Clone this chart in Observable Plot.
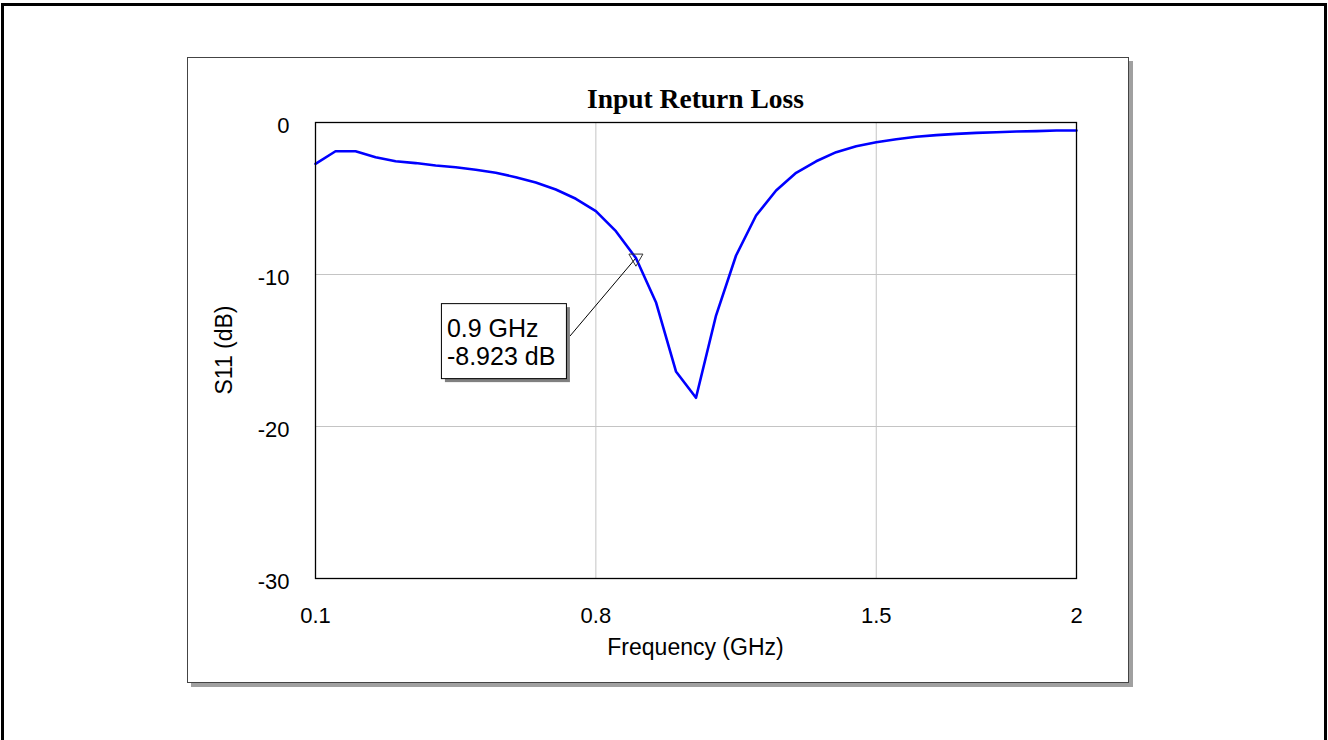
<!DOCTYPE html>
<html>
<head>
<meta charset="utf-8">
<script src="https://cdn.jsdelivr.net/npm/d3@7"></script>
<script src="https://cdn.jsdelivr.net/npm/@observablehq/plot@0.6"></script>
<style>
  html, body { margin: 0; padding: 0; background: #fff; }
  #chart svg { display: block; }
</style>
</head>
<body>
<div id="chart"></div>
<script>
// Frequency sweep (GHz)
const freq = [0.1, 0.15, 0.2, 0.25, 0.3, 0.35, 0.4, 0.45, 0.5, 0.55,
              0.6, 0.65, 0.7, 0.75, 0.8, 0.85, 0.9, 0.95, 1.0, 1.05,
              1.1, 1.15, 1.2, 1.25, 1.3, 1.35, 1.4, 1.45, 1.5, 1.55,
              1.6, 1.65, 1.7, 1.75, 1.8, 1.85, 1.9, 1.95, 2.0];
// S11 (dB)
const s11 = [-2.72, -1.89, -1.89, -2.28, -2.55, -2.67, -2.83, -2.94, -3.11, -3.31,
             -3.60, -3.95, -4.41, -5.02, -5.83, -7.15, -8.92, -11.82, -16.38, -18.11,
             -12.70, -8.75, -6.12, -4.47, -3.31, -2.55, -1.95, -1.56, -1.30, -1.10,
             -0.94, -0.83, -0.75, -0.68, -0.64, -0.59, -0.57, -0.53, -0.53];

const xTicks = [0.1, 0.8, 1.5, 2];
const yTicks = [0, -10, -20, -30];
const xGrid = [0.8, 1.5];
const yGrid = [-10, -20];

const markerFreq = 0.9;
const markerDb = -8.923;
const markerLines = ["0.9 GHz", "-8.923 dB"];

const titleText = "Input Return Loss";
const xLabel = "Frequency (GHz)";
const yLabel = "S11 (dB)";

const data = freq.map((f, i) => ({f, db: s11[i]}));

const plot = Plot.plot({
  width: 1328,
  height: 740,
  marginLeft: 315,
  marginRight: 252,
  marginTop: 122,
  marginBottom: 162,
  style: {fontFamily: "'Liberation Sans', Arial, sans-serif", fontSize: "22px", color: "#000", background: "white"},
  x: {domain: [0.1, 2]},
  y: {domain: [-30, 0]},
  marks: [
    Plot.gridX(xGrid, {stroke: "#c4c4c4", strokeOpacity: 1, strokeWidth: 1}),
    Plot.gridY(yGrid, {stroke: "#c4c4c4", strokeOpacity: 1, strokeWidth: 1}),
    Plot.axisX(xTicks, {tickSize: 0, tickPadding: 29, fontSize: 22, label: null, tickFormat: d => String(d)}),
    Plot.axisY(yTicks, {tickSize: 0, tickPadding: 26, fontSize: 22, label: null, dy: 3, tickFormat: d => String(d)}),
    Plot.line(data, {x: "f", y: "db", stroke: "#0000ff", strokeWidth: 2.6}),
    Plot.frame({stroke: "#000", strokeWidth: 1.3}),
    Plot.dot([{f: markerFreq, db: markerDb}], {x: "f", y: "db", symbol: "triangle", rotate: 180, r: 5.2, stroke: "#333", fill: "none", strokeWidth: 1})
  ]
});

document.getElementById("chart").appendChild(plot);

const svg = d3.select(plot);
const xs = plot.scale("x");
const ys = plot.scale("y");

// Decorations behind the plot
const bg = svg.insert("g", ":first-child");
// outer frame
bg.append("rect").attr("x", 2.5).attr("y", 4.5).attr("width", 1323).attr("height", 745)
  .attr("fill", "white").attr("stroke", "#000").attr("stroke-width", 3);
// panel shadow
bg.append("rect").attr("x", 191).attr("y", 61).attr("width", 942).attr("height", 626)
  .attr("fill", "#a0a0a0");
// panel
bg.append("rect").attr("x", 187.5).attr("y", 57.5).attr("width", 941).attr("height", 625)
  .attr("fill", "white").attr("stroke", "#444").attr("stroke-width", 1);

const x0 = xs.apply(0.1), x1 = xs.apply(2);
const y0 = ys.apply(0), y1 = ys.apply(-30);
const cx = (x0 + x1) / 2, cy = (y0 + y1) / 2;

// title
svg.append("text").attr("x", cx).attr("y", y0 - 14)
  .attr("text-anchor", "middle")
  .attr("font-family", "'Liberation Serif', 'Times New Roman', serif")
  .attr("font-weight", "bold").attr("font-size", 27.5).attr("fill", "#000")
  .text(titleText);

// x label
svg.append("text").attr("x", cx).attr("y", y1 + 77)
  .attr("text-anchor", "middle").attr("font-size", 23).attr("fill", "#000")
  .text(xLabel);

// y label
svg.append("text").attr("transform", `translate(${x0 - 83},${cy}) rotate(-90)`)
  .attr("text-anchor", "middle").attr("font-size", 23).attr("fill", "#000")
  .text(yLabel);

// marker annotation
const mx = xs.apply(markerFreq), my = ys.apply(markerDb);
const bx = mx - 194.5, by = my + 45.5, bw = 125, bh = 75;
const ann = svg.append("g");
ann.append("line").attr("x1", bx + bw + 4).attr("y1", by + 33).attr("x2", mx).attr("y2", my + 1)
  .attr("stroke", "#000").attr("stroke-width", 1);
ann.append("rect").attr("x", bx + 4).attr("y", by + 4).attr("width", bw).attr("height", bh)
  .attr("fill", "#808080");
ann.append("rect").attr("x", bx + 0.5).attr("y", by + 0.5).attr("width", bw).attr("height", bh)
  .attr("fill", "white").attr("stroke", "#000").attr("stroke-width", 1);
markerLines.forEach((t, i) => {
  ann.append("text").attr("x", bx + 6).attr("y", by + 34 + i * 27.5)
    .attr("text-anchor", "start")
    .attr("font-size", 25).attr("fill", "#000").text(t);
});
</script>
</body>
</html>
